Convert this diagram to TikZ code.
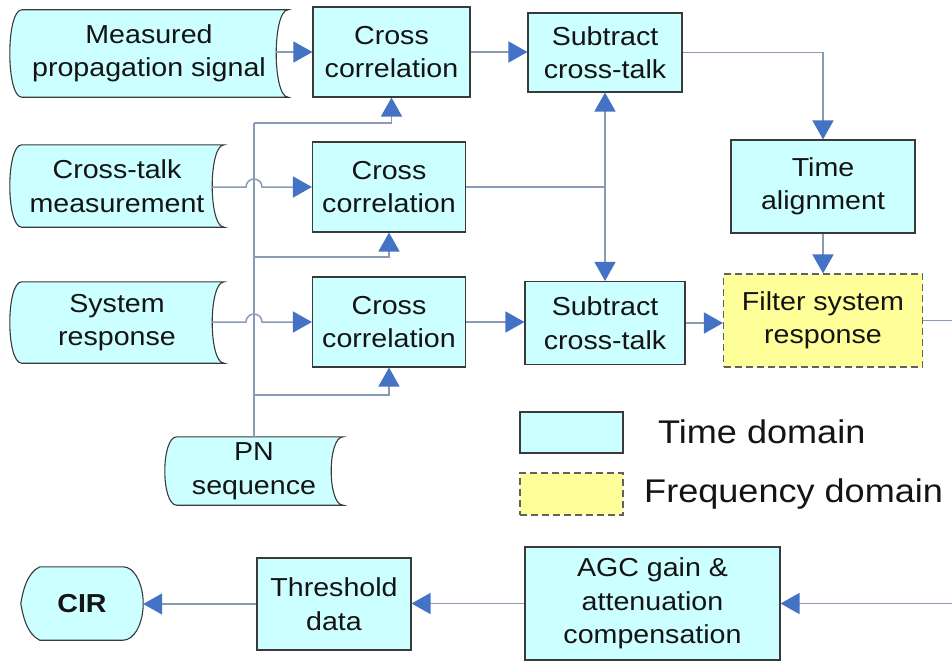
\documentclass[tikz,border=0pt]{standalone}
\usepackage{fontspec}
\setmainfont[FakeStretch=1.1]{Liberation Sans}
\usetikzlibrary{arrows.meta,backgrounds,calc}
\definecolor{cyanfill}{HTML}{CCFFFF}
\definecolor{yelfill}{HTML}{FFFF99}
\definecolor{bordc}{HTML}{3A3A3A}
\definecolor{linec}{HTML}{8A9BB5}
\definecolor{arrowc}{HTML}{4472C4}
\definecolor{txtc}{HTML}{141414}
\newcommand{\sdshape}[1]{\path[shapefill] ($(#1.north west)+(12,0)$) -- (#1.north east) .. controls ($(#1.north east)+(-16,0)$) and ($(#1.south east)+(-16,0)$) .. (#1.south east) -- ($(#1.south west)+(12,0)$) .. controls ($(#1.south west)+(-4,0)$) and ($(#1.north west)+(-4,0)$) .. ($(#1.north west)+(12,0)$) -- cycle;}
\begin{document}
\begin{tikzpicture}[x=1pt,y=-1pt,
  txt/.style={align=center,text=txtc,font=\fontsize{26}{33.5}\selectfont,inner sep=0pt},
  box/.style={txt,draw=bordc,fill=cyanfill,line width=1.1pt},
  fbox/.style={txt,draw=bordc!80,fill=yelfill,line width=1.1pt,dash pattern=on 7pt off 4pt},
  ghost/.style={txt,draw=none,fill=none},
  shapefill/.style={draw=bordc,fill=cyanfill,line width=1.1pt},
  conn/.style={draw=linec,line width=1.5pt},
  arr/.style={conn,-{Triangle[length=19pt,width=21pt,color=arrowc]}},
  legtxt/.style={text=txtc,font=\fontsize{32.8}{36}\selectfont,inner sep=0pt,anchor=west}]
\useasboundingbox (0,0) rectangle (952,661);
% nodes
\node[ghost,minimum width=278pt,minimum height=87pt] (mps) at (149,53.5) {Measured\\propagation signal};
\node[box,minimum width=157pt,minimum height=90pt] (cc1) at (391.5,52) {Cross\\correlation};
\node[box,minimum width=154pt,minimum height=79pt] (sct1) at (605,52.5) {Subtract\\cross-talk};
\node[box,minimum width=184pt,minimum height=93pt] (ta) at (823,186.5) {Time\\alignment};
\node[ghost,minimum width=214pt,minimum height=82pt] (ctm) at (117,186) {Cross-talk\\measurement};
\node[box,minimum width=153pt,minimum height=90pt] (cc2) at (389,187) {Cross\\correlation};
\node[ghost,minimum width=214pt,minimum height=81pt] (sr) at (117,322.5) {System\\response};
\node[box,minimum width=153pt,minimum height=90pt] (cc3) at (389,322) {Cross\\correlation};
\node[box,minimum width=160pt,minimum height=83pt] (sct2) at (605,323) {Subtract\\cross-talk};
\node[fbox,minimum width=199pt,minimum height=93pt] (flt) at (823,320.5) {Filter system\\response};
\node[ghost,minimum width=178pt,minimum height=68pt] (pn) at (254,471) {PN\\sequence};
\node[box,minimum width=255pt,minimum height=113pt] (agc) at (652.5,603.5) {AGC gain \&\\attenuation\\compensation};
\node[box,minimum width=154pt,minimum height=92pt] (thr) at (334,604) {Threshold\\data};
\node[ghost,minimum width=122pt,minimum height=73pt,font=\fontsize{26}{33.5}\selectfont\bfseries] (cir) at (82,603.5) {CIR};
% legend
\node[box,minimum width=103pt,minimum height=41pt] (leg1) at (571.5,432.5) {};
\node[fbox,minimum width=103pt,minimum height=42pt] (leg2) at (571.5,494) {};
\node[legtxt] (leg1t) at (658,432) {Time domain};
\node[legtxt] (leg2t) at (644,494) {Frequency domain};
% shaped backgrounds
\begin{pgfonlayer}{background}
\sdshape{mps}
\sdshape{ctm}
\sdshape{sr}
\sdshape{pn}
\path[shapefill] ($(cir.north west)+(19,0)$) -- ($(cir.north east)+(-20,0)$)
  .. controls ($(cir.north east)+(-9,0)$) and ($(cir.east)+(0,-20)$) .. (cir.east)
  .. controls ($(cir.east)+(0,20)$) and ($(cir.south east)+(-9,0)$) .. ($(cir.south east)+(-20,0)$)
  -- ($(cir.south west)+(19,0)$)
  .. controls ($(cir.south west)+(6,-6)$) and ($(cir.west)+(2,12)$) .. (cir.west)
  .. controls ($(cir.west)+(2,-12)$) and ($(cir.north west)+(6,6)$) .. ($(cir.north west)+(19,0)$) -- cycle;
\end{pgfonlayer}
% coordinates
\coordinate (pnx) at (pn.north);
\coordinate (b1) at (254,123);
\coordinate (b2) at (254,257);
\coordinate (b3) at (254,395);
\coordinate (jn) at (sct1.south |- cc2.east);
\coordinate (e1) at (952,320.5);
\coordinate (e2) at (952,603.5);
% connectors
\draw[arr] ([xshift=-12pt]mps.east |- cc1.west) -- (cc1.west);
\draw[arr] (cc1.east) -- (cc1.east -| sct1.west);
\draw[arr] (sct1.east) -| (ta.north);
\draw[arr] (ta.south) -- (flt.north);
\draw[arr] ([xshift=-12pt]ctm.east |- cc2.west) -- ([xshift=-8pt]pnx |- cc2.west) arc[start angle=180,end angle=0,radius=8pt] -- (cc2.west);
\draw[arr] ([xshift=-12pt]sr.east |- cc3.west) -- ([xshift=-8pt]pnx |- cc3.west) arc[start angle=180,end angle=0,radius=8pt] -- (cc3.west);
\draw[conn] (cc2.east) -- (jn);
\draw[arr] (jn) -- (sct1.south);
\draw[arr] (jn) -- (sct2.north);
\draw[arr] (cc3.east) -- (cc3.east -| sct2.west);
\draw[arr] (sct2.east) -- (sct2.east -| flt.west);
\draw[conn] (flt.east) -- (e1);
\draw[conn] (pn.north) -- (b1);
\draw[arr] (b1) -| (cc1.south);
\draw[arr] (b2) -| (cc2.south);
\draw[arr] (b3) -| (cc3.south);
\draw[arr] (e2) -- (agc.east);
\draw[arr] (agc.west) -- (agc.west -| thr.east);
\draw[arr] (thr.west) -- (thr.west -| cir.east);
\end{tikzpicture}
\end{document}
